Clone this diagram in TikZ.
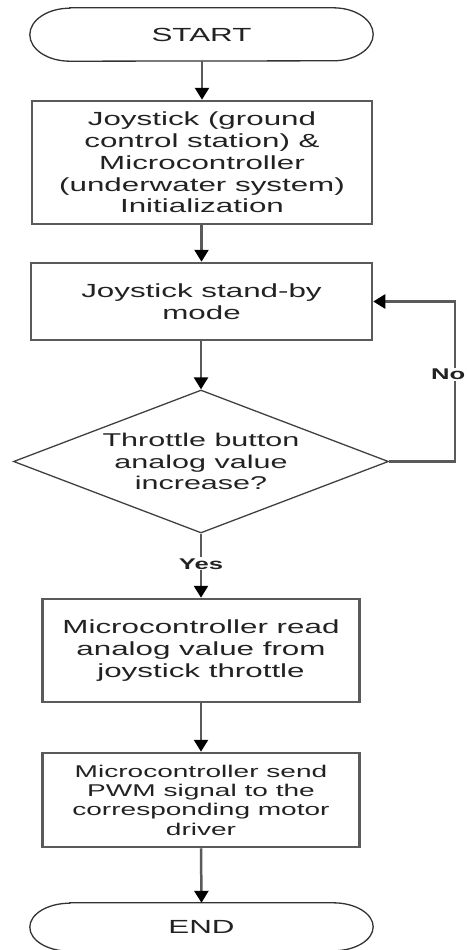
\documentclass[tikz,border=0pt]{standalone}
\usepackage{fontspec}
\setmainfont{Liberation Sans}[FakeStretch=1.65]
\usetikzlibrary{arrows.meta,shapes.geometric}
\definecolor{linec}{HTML}{5A5A5A}
\definecolor{txtc}{HTML}{222222}
\tikzset{
  procbox/.style={draw=linec, line width=2.5pt, align=center, inner sep=0pt, text=txtc,
    font=\fontsize{19}{21.8}\selectfont},
  termbox/.style={draw=none, align=center, inner sep=0pt, text=txtc,
    font=\fontsize{19}{21.8}\selectfont},
  termline/.style={draw=black!80, line width=1.3pt},
  decbox/.style={diamond, draw=black!75, line width=1.3pt, align=center, inner sep=0pt,
    aspect=2.62, text=txtc, font=\fontsize{18.5}{21.5}\selectfont},
  conn/.style={draw=linec, line width=2.5pt, -{Triangle[length=12pt,width=14pt,fill=black,color=black]}},
  lbl/.style={fill=white, inner sep=1pt, text=txtc, font=\fontsize{15.5}{17}\selectfont\bfseries},
}
\begin{document}
\begin{tikzpicture}[x=1pt,y=1pt]
\useasboundingbox (0,0) rectangle (467,-950);
% terminals
\node[termbox, minimum width=343pt, minimum height=53pt] (start) at (201.5,-34.5) {START};
\draw[termline] ([xshift=40pt]start.north west) -- ([xshift=-40pt]start.north east)
  arc[start angle=90,end angle=-90,x radius=40pt,y radius=26.5pt]
  -- ([xshift=40pt]start.south west)
  arc[start angle=270,end angle=90,x radius=40pt,y radius=26.5pt] -- cycle;

\node[procbox, minimum width=340pt, minimum height=123pt] (b1) at (202,-162.5)
  {Joystick (ground\\control station) \&\\Microcontroller\\(underwater system)\\Initialization};
\node[procbox, minimum width=341pt, minimum height=77pt] (b2) at (201.5,-301.5)
  {Joystick stand-by\\mode};
\node[decbox, minimum width=375pt, minimum height=143pt] (dec) at (201,-461.5)
  {Throttle button\\analog value\\increase?};
\node[procbox, minimum width=317pt, minimum height=103pt] (b3) at (201,-650.5)
  {Microcontroller read\\analog value from\\joystick throttle};
\node[procbox, minimum width=317pt, minimum height=94pt, font=\fontsize{17}{19.3}\selectfont] (b4) at (201,-800)
  {Microcontroller send\\PWM signal to the\\corresponding motor\\driver};

\node[termbox, minimum width=343pt, minimum height=48pt] (end) at (201.5,-927) {END};
\draw[termline] ([xshift=40pt]end.north west) -- ([xshift=-40pt]end.north east)
  arc[start angle=90,end angle=-90,x radius=40pt,y radius=24pt]
  -- ([xshift=40pt]end.south west)
  arc[start angle=270,end angle=90,x radius=40pt,y radius=24pt] -- cycle;

% connectors
\draw[conn] (start.south -| b1.north) -- (b1.north);
\draw[conn] (b1.south -| b2.north) -- (b2.north);
\draw[conn] (b2.south -| dec.north) -- (dec.north);
\draw[conn] (dec.south) -- (b3.north) node[lbl, pos=0.47] (yes) {Yes};
\draw[conn] (b3.south) -- (b4.north);
\draw[conn] (b4.south) -- (end.north);

\coordinate (loopx) at (455,0);
\draw[conn] (dec.east) -- (dec.east -| loopx) -- (b2.east -| loopx) -- (b2.east);
\node[lbl, anchor=east] (no) at (466.5,-374.5) {No};
\end{tikzpicture}
\end{document}
